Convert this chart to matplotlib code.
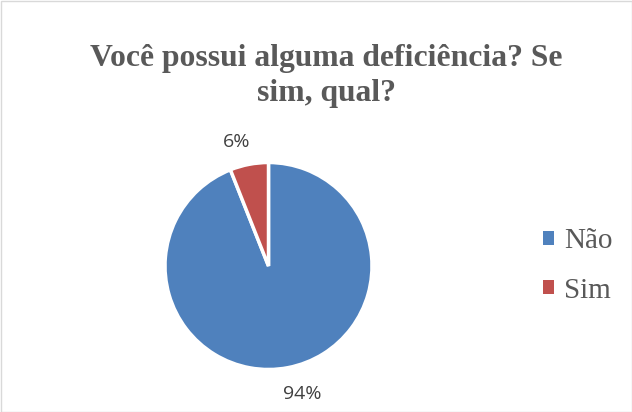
import matplotlib.pyplot as plt
from matplotlib.patches import Rectangle

# data
labels = ['Não', 'Sim']
values = [94, 6]
colors = ['#4F81BD', '#C0504D']
title = 'Você possui alguma deficiência? Se\nsim, qual?'

fig = plt.figure(figsize=(6.32, 4.12), dpi=100)
fig.patch.set_facecolor('white')
fig.add_artist(Rectangle((0.5 / 632, 0.5 / 412), 1 - 1 / 632, 1 - 1 / 412,
                         transform=fig.transFigure, fill=False,
                         edgecolor='#D9D9D9', linewidth=1))

# pie axes
ax = fig.add_axes([165 / 632, 42.5 / 412, 207 / 632, 207 / 412])
wedges, texts, autotexts = ax.pie(
    values, colors=colors, startangle=90, counterclock=False,
    autopct='%1.0f%%', pctdistance=1.22,
    wedgeprops=dict(edgecolor='white', linewidth=2.5),
    textprops=dict(family='Open Sans', fontsize=14, color='#404040'))
ax.set_xlim(-1, 1)
ax.set_ylim(-1, 1)
ax.set_aspect('equal')
# label spots as Excel's best fit puts them
autotexts[0].set_position((0.33, -1.24))
autotexts[1].set_position((-0.31, 1.2))

fig.text(0.5166, 0.8155, title, ha='center', va='center',
         family='Liberation Serif', fontweight='bold', fontsize=22.8,
         color='#595959', linespacing=1.26)

leg = fig.legend(wedges, labels, loc='center left',
                 bbox_to_anchor=(543 / 632, 146 / 412), frameon=False,
                 borderpad=0, borderaxespad=0,
                 prop=dict(family='Liberation Serif', size=21),
                 handlelength=0.38, handleheight=0.38, handletextpad=0.34,
                 labelspacing=0.8, labelcolor='#595959')
for h in leg.legend_handles:
    h.set_edgecolor('none')

fig.savefig('out.png', dpi=100)
